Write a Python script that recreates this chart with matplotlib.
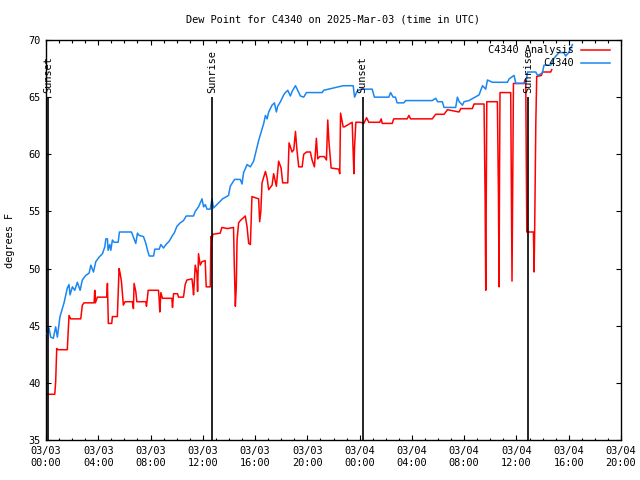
import matplotlib
matplotlib.use("Agg")
import matplotlib.pyplot as plt
from matplotlib.lines import Line2D
from matplotlib.ticker import MultipleLocator

plt.rcParams['font.family'] = ['DejaVu Sans Mono']
FS = 7.4

# ---- data (hours since 2025-03-03 00:00 UTC, dew point in degrees F) ----
obs_hours = [0.10, 0.23, 0.36, 0.56, 0.74, 0.87, 1.07, 1.38, 1.63, 1.76, 1.84, 2.02, 2.20, 2.40,
             2.61, 2.78, 3.04, 3.30, 3.43, 3.63, 3.81, 4.06, 4.32, 4.50, 4.58, 4.70, 4.75, 4.88,
             4.96, 5.08, 5.21, 5.52, 5.62, 6.54, 6.74, 6.87, 7.00, 7.13, 7.46, 7.64, 7.77, 7.90,
             8.23, 8.33, 8.66, 8.79, 8.99, 9.18, 9.43, 9.68, 9.81, 10.02, 10.27, 10.52, 10.73,
             11.29, 11.42, 11.67, 11.94, 12.06, 12.19, 12.32, 12.57, 12.70, 12.82, 13.08, 13.34,
             13.51, 13.97, 14.10, 14.43, 14.87, 15.00, 15.12, 15.39, 15.64, 15.89, 16.02, 16.10,
             16.27, 16.66, 16.79, 16.92, 17.04, 17.30, 17.48, 17.63, 17.73, 17.94, 18.19, 18.32,
             18.50, 18.70, 18.83, 19.09, 19.47, 19.72, 19.93, 21.13, 21.25, 22.74, 23.51, 23.61,
             23.80, 24.07, 24.96, 25.13, 26.23, 26.37, 26.56, 26.74, 26.87, 27.38, 27.52, 29.56,
             29.82, 29.97, 30.33, 30.46, 31.35, 31.48, 31.62, 31.87, 31.99, 32.37, 33.14, 33.40,
             33.65, 33.78, 34.16, 35.31, 35.44, 35.82, 35.95, 36.72, 36.85, 37.48, 37.61, 37.98,
             38.11, 38.62, 38.87, 39.26, 39.62, 39.77, 40.00, 40.28]
obs_values = [44.3, 44.8, 44.0, 43.9, 44.9, 44.0, 45.8, 47.0, 48.3, 48.6, 47.7, 48.4, 48.1, 48.8,
              48.1, 49.0, 49.4, 49.6, 50.3, 49.7, 50.6, 51.0, 51.3, 51.9, 52.6, 52.6, 51.6, 52.1,
              51.6, 52.5, 52.3, 52.3, 53.2, 53.2, 52.6, 52.2, 53.1, 52.9, 52.8, 52.2, 51.6, 51.1,
              51.1, 51.7, 51.7, 52.1, 51.8, 52.1, 52.4, 52.9, 53.1, 53.7, 54.0, 54.2, 54.6,
              54.6, 55.0, 55.4, 56.1, 55.4, 55.6, 55.2, 55.2, 56.1, 55.3, 55.6, 55.9,
              56.1, 56.4, 57.2, 57.8, 57.8, 57.4, 58.4, 59.1, 58.9, 59.4, 60.0, 60.4,
              61.2, 62.7, 63.4, 63.1, 63.7, 64.3, 64.5, 63.7, 64.2, 64.6, 65.2, 65.4,
              65.6, 65.1, 65.5, 66.0, 65.1, 65.0, 65.4, 65.4, 65.6, 66.0, 66.0, 65.0,
              65.5, 65.7, 65.7, 65.0, 65.0, 65.4, 65.0, 65.0, 64.5, 64.5, 64.7, 64.7,
              64.9, 64.6, 64.6, 64.1, 64.1, 65.0, 64.6, 64.3, 64.6, 64.7, 65.2, 66.0,
              65.7, 66.5, 66.3, 66.3, 66.6, 66.9, 66.2, 66.2, 67.2, 67.2, 66.9, 67.1,
              67.8, 67.8, 68.4, 68.9, 68.9, 68.6, 68.9, 69.6]

ana_hours = [0.10, 0.67, 0.74, 0.82, 0.92, 1.63, 1.69, 1.76, 1.89, 2.66, 2.78, 2.91, 3.68, 3.73,
             3.78, 3.93, 4.65, 4.70, 4.77, 5.03, 5.08, 5.46, 5.59, 5.67, 5.77, 5.92, 6.05, 6.61,
             6.69, 6.74, 6.87, 6.95, 7.64, 7.69, 7.82, 8.61, 8.66, 8.71, 8.79, 8.91, 9.63, 9.68,
             9.76, 10.06, 10.14, 10.52, 10.65, 10.78, 11.17, 11.24, 11.29, 11.42, 11.55, 11.60,
             11.67, 11.80, 11.93, 12.18, 12.26, 12.57, 12.62, 12.70, 12.77, 13.33, 13.46, 13.90,
             14.35, 14.41, 14.49, 14.56, 14.62, 14.74, 14.87, 15.25, 15.38, 15.51, 15.64, 15.76,
             16.27, 16.35, 16.44, 16.53, 16.79, 16.92, 17.04, 17.30, 17.42, 17.63, 17.80, 17.99,
             18.11, 18.50, 18.60, 18.83, 18.96, 19.09, 19.20, 19.34, 19.60, 19.72, 19.93, 20.23,
             20.36, 20.54, 20.69, 20.79, 20.94, 21.30, 21.46, 21.56, 21.65, 21.82, 22.40, 22.48,
             22.54, 22.74, 22.84, 23.43, 23.56, 23.61, 23.71, 24.07, 24.32, 24.53, 24.70, 25.54,
             25.65, 25.73, 26.49, 26.61, 27.64, 27.77, 27.90, 29.56, 29.82, 30.46, 30.72, 31.61,
             31.74, 32.63, 32.75, 33.52, 33.60, 33.65, 33.69, 33.73, 34.54, 34.62, 34.67, 34.70,
             34.74, 35.56, 35.61, 35.66, 35.72, 35.77, 36.59, 36.64, 36.71, 36.79, 37.30, 37.32,
             37.35, 37.40, 37.48, 37.55, 37.91, 37.99, 38.62, 38.70]
ana_values = [39.0, 39.0, 40.1, 43.0, 42.9, 42.9, 44.3, 45.9, 45.6, 45.6, 46.8, 47.0, 47.0, 48.1,
              47.0, 47.5, 47.5, 48.7, 45.2, 45.2, 45.8, 45.8, 50.0, 49.6, 48.9, 46.8, 47.1, 47.1,
              46.5, 48.7, 48.0, 47.1, 47.1, 46.7, 48.1, 48.1, 47.3, 46.2, 47.9, 47.4, 47.4, 46.6,
              47.8, 47.8, 47.5, 47.5, 48.6, 49.0, 49.1, 48.4, 47.7, 50.3, 49.6, 48.0,
              51.3, 50.3, 50.6, 50.7, 48.4, 48.4, 52.8, 52.5, 53.0, 53.1, 53.6, 53.5,
              53.6, 50.2, 46.7, 48.4, 52.5, 54.0, 54.2, 54.6, 53.7, 52.2, 52.1, 56.3,
              56.1, 54.1, 55.0, 57.5, 58.5, 57.9, 56.9, 57.3, 58.3, 57.2, 59.4, 58.8,
              57.5, 57.5, 61.0, 60.2, 60.4, 62.0, 60.4, 58.9, 58.9, 60.0, 60.2, 60.2,
              59.5, 58.9, 61.4, 59.6, 59.8, 59.8, 59.5, 63.0, 61.1, 58.8, 58.7, 58.3,
              63.6, 62.4, 62.4, 62.8, 58.3, 60.6, 62.8, 62.8, 62.7, 63.2, 62.8, 62.8,
              63.1, 62.7, 62.7, 63.1, 63.1, 63.4, 63.1, 63.1, 63.5, 63.5, 63.9, 63.7,
              64.0, 64.0, 64.4, 64.4, 56.4, 48.1, 56.4, 64.6, 64.6, 56.6, 48.4, 57.0,
              65.4, 65.4, 57.3, 48.9, 57.8, 66.2, 66.2, 66.5, 66.5, 53.2, 53.2, 51.6,
              49.7, 54.0, 62.6, 66.8, 66.9, 67.2, 67.2, 67.4]

sun_hours = [0.15, 12.72, 24.22, 36.87]
sun_labels = ["Sunset", "Sunrise", "Sunset", "Sunrise"]

xtick_hours = [0, 4, 8, 12, 16, 20, 24, 28, 32, 36, 40, 44]
xtick_labels = ["03/03\n00:00", "03/03\n04:00", "03/03\n08:00", "03/03\n12:00",
                "03/03\n16:00", "03/03\n20:00", "03/04\n00:00", "03/04\n04:00",
                "03/04\n08:00", "03/04\n12:00", "03/04\n16:00", "03/04\n20:00"]

RED = "#ff0000"
BLUE = "#1a86f2"

fig = plt.figure(figsize=(6.4, 4.8), dpi=100)
ax = fig.add_axes([46 / 640, 1 - 440 / 480, 575 / 640, 400 / 480])

ax.plot(ana_hours, ana_values, color=RED, lw=1.1, zorder=2)
ax.plot(obs_hours, obs_values, color=BLUE, lw=1.1, zorder=3)

ax.vlines(sun_hours, 35, 65.0, color="black", lw=1.2, zorder=4)
for h, lab in zip(sun_hours, sun_labels):
    ax.text(h, 65.35, lab, rotation=90, ha="center", va="bottom", fontsize=FS, zorder=5)

ax.set_xlim(0, 44)
ax.set_ylim(35, 70)
ax.set_xticks(xtick_hours)
ax.set_xticklabels(xtick_labels, fontsize=FS, linespacing=1.35)
ax.xaxis.set_minor_locator(MultipleLocator(1))
ax.set_yticks(range(35, 71, 5))
ax.tick_params(axis="y", labelsize=FS)
ax.tick_params(which="major", direction="in", length=3.3, width=0.8, top=True, right=True, pad=4)
ax.tick_params(which="minor", direction="in", length=1.8, width=0.8, top=True, right=True)
for s in ax.spines.values():
    s.set_linewidth(1.0)

fig.text(333.5 / 640, 1 - 19 / 480, "Dew Point for C4340 on 2025-Mar-03 (time in UTC)",
         ha="center", va="center", fontsize=FS)
fig.text(10 / 640, 0.5, "degrees F", rotation=90, ha="center", va="center", fontsize=FS)

# legend
leg_items = [("C4340 Analysis", RED, 50), ("C4340", BLUE, 62.5)]
for lab, col, ypx in leg_items:
    fig.text(574 / 640, 1 - ypx / 480, lab, ha="right", va="center", fontsize=FS, zorder=6)
    fig.add_artist(Line2D([581 / 640, 610 / 640], [1 - ypx / 480, 1 - ypx / 480],
                          color=col, lw=1.1))

fig.savefig("out.png", dpi=100)
